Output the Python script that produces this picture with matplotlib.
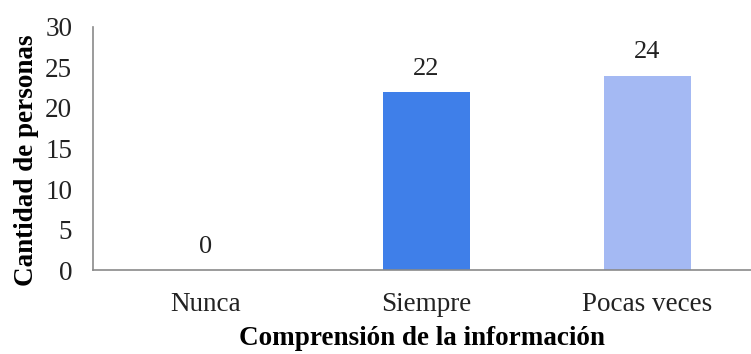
import matplotlib
matplotlib.use('Agg')
import matplotlib.pyplot as plt

categorias = ['Nunca', 'Siempre', 'Pocas veces']
personas = [0, 22, 24]
colores = ['#3f7fe9', '#3f7fe9', '#a4b9f3']

plt.rcParams['font.family'] = ['Liberation Serif', 'DejaVu Serif']

fig = plt.figure(figsize=(7.51, 3.54), dpi=100)
ax = fig.add_axes([0.124, 0.237, 0.876, 0.687])

x = range(len(categorias))
bars = ax.bar(x, personas, width=0.394, color=colores)
for b, v in zip(bars, personas):
    ax.text(b.get_x() + b.get_width() / 2, v + 1.5, str(v),
            ha='center', va='bottom', fontsize=19, color='#222222')

ax.set_xlim(-0.507, 2.47)
ax.set_ylim(0, 30)
ax.set_yticks(range(0, 31, 5))
ax.set_xticks(list(x))
ax.set_xticklabels(categorias, fontsize=19.5, color='#222222')
ax.tick_params(axis='y', labelsize=19.5, labelcolor='#222222', length=0, pad=15)
ax.tick_params(axis='x', length=0, pad=16)

for s in ('top', 'right'):
    ax.spines[s].set_visible(False)
for s in ('left', 'bottom'):
    ax.spines[s].set_color('#8a8a8a')
    ax.spines[s].set_linewidth(1.2)

ax.set_ylabel('Cantidad de personas', fontsize=19.5, fontweight='bold')
ax.yaxis.set_label_coords(-0.082, 0.453)
ax.set_xlabel('Comprensión de la información', fontsize=19.5, fontweight='bold', labelpad=6)

fig.savefig('out.png', dpi=100)
